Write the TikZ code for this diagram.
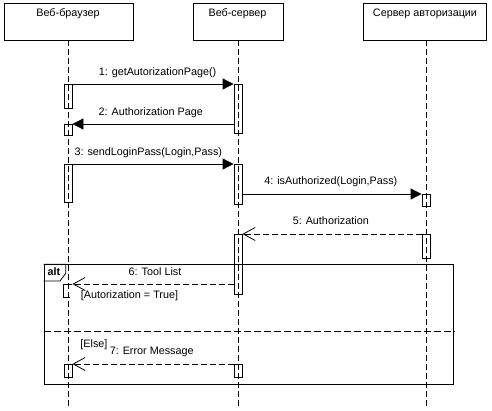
\documentclass[tikz,border=0pt]{standalone}
\usepackage{fontspec}
\setmainfont{Liberation Sans}
\usetikzlibrary{arrows.meta}
\begin{document}
\begin{tikzpicture}[x=1pt,y=-1pt, line width=0.8pt,
  head/.style={draw, minimum height=37pt, inner sep=0pt},
  act/.style={draw, minimum width=8pt, inner sep=0pt, anchor=north},
  lifeline/.style={dash pattern=on 6pt off 3pt},
  txt/.style={font=\fontsize{10.8}{12}\selectfont, inner sep=0pt},
  call/.style={-{Triangle[length=11pt,width=11pt]}},
  reply/.style={dash pattern=on 6pt off 3pt, -{Straight Barb[length=12pt,width=13pt]}}
]
\useasboundingbox (0,0) rectangle (492,410);
% heads
\node[head, minimum width=129pt] (h1) at (68.5,21.5) {};
\node[head, minimum width=90pt] (h2) at (238,21.5) {};
\node[head, minimum width=123pt] (h3) at (424.5,21.5) {};
\node[txt] (t1) at (68,14) {Веб-браузер};
\node[txt] (t2) at (237.5,14) {Веб-сервер};
\node[txt] (t3) at (425,14) {Сервер авторизации};
% lifelines
\coordinate (e1) at (68,408);
\coordinate (e2) at (238,408);
\coordinate (e3) at (426,408);
\draw[lifeline] (e1 |- h1.south) -- (e1);
\draw[lifeline] (e2 |- h2.south) -- (e2);
\draw[lifeline] (e3 |- h3.south) -- (e3);
% activations
\node[act, minimum height=24pt] (a1) at (68,84) {};
\node[act, minimum height=11pt] (a2) at (68,124) {};
\node[act, minimum height=38pt] (a3) at (68,164) {};
\node[act, draw=none, minimum height=13pt] (a6) at (68,284) {};
\draw (a6.north east) -- (a6.north west) -- (a6.south west) -- ([xshift=6pt]a6.south west);
\node[act, minimum height=13pt] (a7) at (68,364) {};
\node[act, minimum height=49pt] (s1) at (238,84) {};
\node[act, minimum height=40pt] (s3) at (238,164) {};
\node[act, minimum height=60pt] (s5) at (238,234) {};
\node[act, minimum height=13pt] (s7) at (238,364) {};
\node[act, minimum height=12pt] (r4) at (426,194) {};
\node[act, minimum height=24pt] (r5) at (426,234) {};
% messages
\draw[call] (a1.north east) -- (s1.north west);
\draw[call] (s1.west |- a2.north) -- (a2.north east);
\draw[call] (a3.north east) -- (s3.north west);
\draw[call] (s3.east |- r4.north) -- (r4.north west);
\draw[reply] (r5.north west) -- (s5.north east);
\draw[reply] (s5.west |- a6.north) -- (a6.north east);
\draw[reply] (s7.north west) -- (a7.north east);
% labels
\node[txt] (m1) at (157.5,73) {1: getAutorizationPage()};
\node[txt] (m2) at (150.7,113) {2: Authorization Page};
\node[txt] (m3) at (148.3,152.7) {3: sendLoginPass(Login,Pass)};
\node[txt] (m4) at (330.8,181.7) {4: isAuthorized(Login,Pass)};
\node[txt] (m5) at (330.8,221) {5: Authorization};
\node[txt] (m6) at (155,271.7) {6: Tool List};
\node[txt] (g1) at (129.5,295.7) {[Autorization = True]};
\node[txt, anchor=west] (g2) at (80,345) {[Else]};
\node[txt] (m7) at (151.7,351.7) {7: Error Message};
% alt frame
\node[draw, minimum width=409.6pt, minimum height=119.7pt, inner sep=0pt, anchor=north west] (fr) at (43.7,264.3) {};
\draw (fr.north west) -- ++(22,0) -- ++(0,9) -- ++(-5.7,7.7) -- ++(-16.3,0);
\node[txt, font=\fontsize{10.8}{12}\selectfont\bfseries] (alt) at (54,272) {alt};
\coordinate (dv) at (0,331.3);
\draw[dash pattern=on 7pt off 3pt] (fr.west |- dv) -- (fr.east |- dv);
\end{tikzpicture}
\end{document}
